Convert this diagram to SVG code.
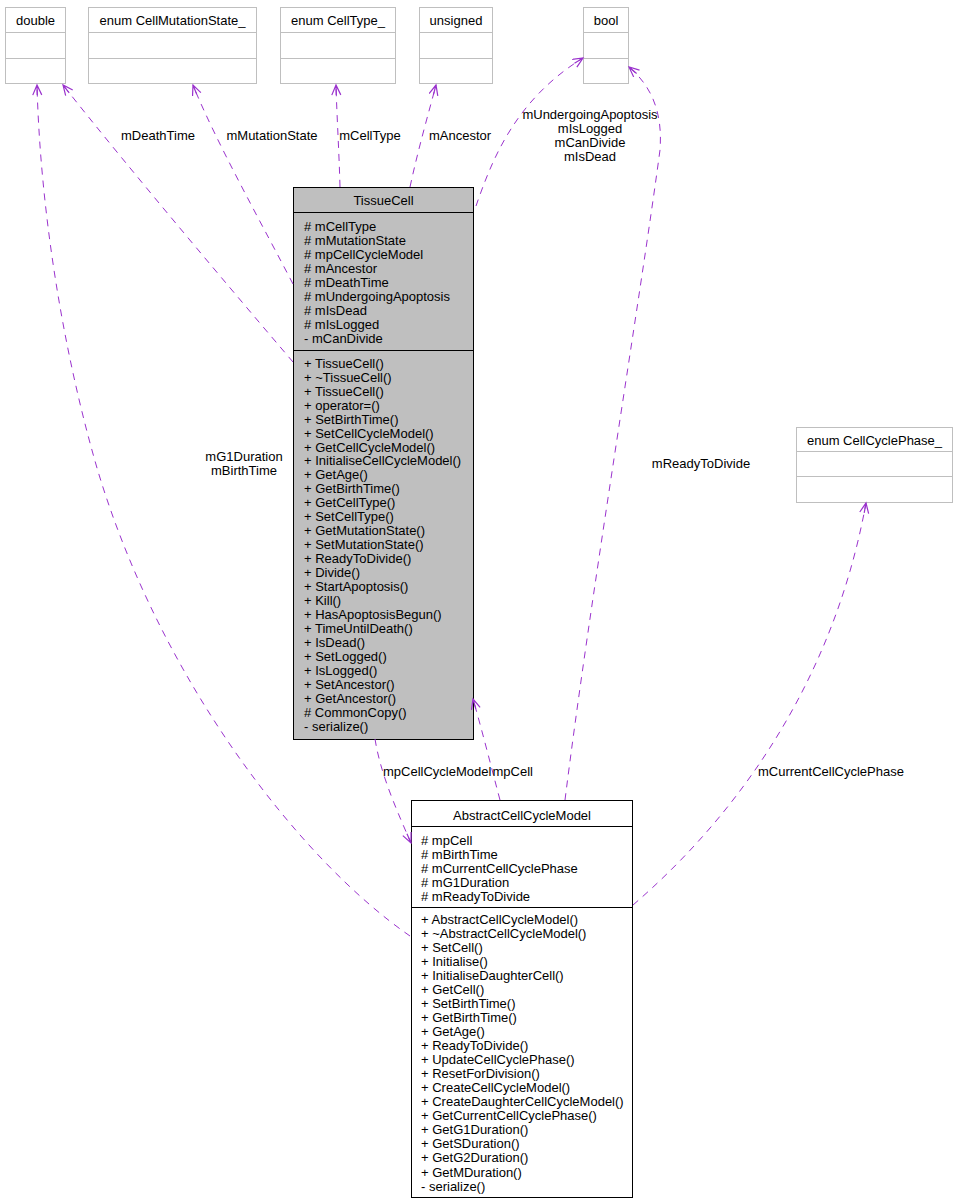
<svg xmlns="http://www.w3.org/2000/svg" width="956" height="1203" viewBox="0 0 956 1203">
<style>
text{font-family:"Liberation Sans",Arial,Helvetica,sans-serif;font-size:13px;fill:#000}
.c{text-anchor:middle}
.ext rect{fill:#fff;stroke:#bfbfbf;stroke-width:1}
.ext line{stroke:#bfbfbf;stroke-width:1}
.main rect{fill:#bfbfbf;stroke:#000;stroke-width:1}
.main line,.cls line{stroke:#000;stroke-width:1}
.cls rect{fill:#fff;stroke:#000;stroke-width:1}
.e{fill:none;stroke:#9a32cd;stroke-width:1;stroke-dasharray:7,6;marker-end:url(#ah)}
</style>
<defs>
<marker id="ah" markerUnits="userSpaceOnUse" markerWidth="14" markerHeight="12" refX="11" refY="5" orient="auto">
<path d="M1,0.5 L11,5 L1,9.5 M1,5 L11,5" fill="none" stroke="#9a32cd" stroke-width="1.2"/>
</marker>
</defs>
<rect width="956" height="1203" fill="#fff"/>

<g id="double" class="ext">
<rect x="5.5" y="7.5" width="60" height="76"/>
<line x1="5.5" y1="32.5" x2="65.5" y2="32.5"/>
<line x1="5.5" y1="58.5" x2="65.5" y2="58.5"/>
<text class="c" x="35.5" y="25">double</text>
</g>
<g id="CellMutationState" class="ext">
<rect x="88.5" y="7.5" width="168" height="76"/>
<line x1="88.5" y1="32.5" x2="256.5" y2="32.5"/>
<line x1="88.5" y1="58.5" x2="256.5" y2="58.5"/>
<text class="c" x="172.5" y="25">enum CellMutationState_</text>
</g>
<g id="CellType" class="ext">
<rect x="280.5" y="7.5" width="115" height="76"/>
<line x1="280.5" y1="32.5" x2="395.5" y2="32.5"/>
<line x1="280.5" y1="58.5" x2="395.5" y2="58.5"/>
<text class="c" x="338" y="25">enum CellType_</text>
</g>
<g id="unsigned" class="ext">
<rect x="419.5" y="7.5" width="73" height="76"/>
<line x1="419.5" y1="32.5" x2="492.5" y2="32.5"/>
<line x1="419.5" y1="58.5" x2="492.5" y2="58.5"/>
<text class="c" x="456" y="25">unsigned</text>
</g>
<g id="bool" class="ext">
<rect x="583.5" y="7.5" width="45" height="76"/>
<line x1="583.5" y1="32.5" x2="628.5" y2="32.5"/>
<line x1="583.5" y1="58.5" x2="628.5" y2="58.5"/>
<text class="c" x="606" y="25">bool</text>
</g>
<g id="CellCyclePhase" class="ext">
<rect x="796.5" y="427.5" width="156" height="75"/>
<line x1="796.5" y1="451.5" x2="952.5" y2="451.5"/>
<line x1="796.5" y1="476.5" x2="952.5" y2="476.5"/>
<text class="c" x="874.5" y="445">enum CellCyclePhase_</text>
</g>

<g id="TissueCell" class="main">
<rect x="293.5" y="187.5" width="180" height="552"/>
<line x1="293.5" y1="212.5" x2="473.5" y2="212.5"/>
<line x1="293.5" y1="350.5" x2="473.5" y2="350.5"/>
<text class="c" x="383.5" y="205">TissueCell</text>
<text x="304" y="231">
<tspan x="304" dy="0"># mCellType</tspan>
<tspan x="304" dy="13.95"># mMutationState</tspan>
<tspan x="304" dy="13.95"># mpCellCycleModel</tspan>
<tspan x="304" dy="13.95"># mAncestor</tspan>
<tspan x="304" dy="13.95"># mDeathTime</tspan>
<tspan x="304" dy="13.95"># mUndergoingApoptosis</tspan>
<tspan x="304" dy="13.95"># mIsDead</tspan>
<tspan x="304" dy="13.95"># mIsLogged</tspan>
<tspan x="304" dy="13.95">- mCanDivide</tspan>
</text>
<text x="304" y="367.8">
<tspan x="304" dy="0">+ TissueCell()</tspan>
<tspan x="304" dy="13.95">+ ~TissueCell()</tspan>
<tspan x="304" dy="13.95">+ TissueCell()</tspan>
<tspan x="304" dy="13.95">+ operator=()</tspan>
<tspan x="304" dy="13.95">+ SetBirthTime()</tspan>
<tspan x="304" dy="13.95">+ SetCellCycleModel()</tspan>
<tspan x="304" dy="13.95">+ GetCellCycleModel()</tspan>
<tspan x="304" dy="13.95">+ InitialiseCellCycleModel()</tspan>
<tspan x="304" dy="13.95">+ GetAge()</tspan>
<tspan x="304" dy="13.95">+ GetBirthTime()</tspan>
<tspan x="304" dy="13.95">+ GetCellType()</tspan>
<tspan x="304" dy="13.95">+ SetCellType()</tspan>
<tspan x="304" dy="13.95">+ GetMutationState()</tspan>
<tspan x="304" dy="13.95">+ SetMutationState()</tspan>
<tspan x="304" dy="13.95">+ ReadyToDivide()</tspan>
<tspan x="304" dy="13.95">+ Divide()</tspan>
<tspan x="304" dy="13.95">+ StartApoptosis()</tspan>
<tspan x="304" dy="13.95">+ Kill()</tspan>
<tspan x="304" dy="13.95">+ HasApoptosisBegun()</tspan>
<tspan x="304" dy="13.95">+ TimeUntilDeath()</tspan>
<tspan x="304" dy="13.95">+ IsDead()</tspan>
<tspan x="304" dy="13.95">+ SetLogged()</tspan>
<tspan x="304" dy="13.95">+ IsLogged()</tspan>
<tspan x="304" dy="13.95">+ SetAncestor()</tspan>
<tspan x="304" dy="13.95">+ GetAncestor()</tspan>
<tspan x="304" dy="13.95"># CommonCopy()</tspan>
<tspan x="304" dy="13.95">- serialize()</tspan>
</text>
</g>

<g id="AbstractCellCycleModel" class="cls">
<rect x="411.5" y="800.5" width="221" height="397"/>
<line x1="411.5" y1="826.5" x2="632.5" y2="826.5"/>
<line x1="411.5" y1="907.5" x2="632.5" y2="907.5"/>
<text class="c" x="522" y="819.5">AbstractCellCycleModel</text>
<text x="421" y="844.5">
<tspan x="421" dy="0"># mpCell</tspan>
<tspan x="421" dy="14"># mBirthTime</tspan>
<tspan x="421" dy="14"># mCurrentCellCyclePhase</tspan>
<tspan x="421" dy="14"># mG1Duration</tspan>
<tspan x="421" dy="14"># mReadyToDivide</tspan>
</text>
<text x="421" y="923.8">
<tspan x="421" dy="0">+ AbstractCellCycleModel()</tspan>
<tspan x="421" dy="14.04">+ ~AbstractCellCycleModel()</tspan>
<tspan x="421" dy="14.04">+ SetCell()</tspan>
<tspan x="421" dy="14.04">+ Initialise()</tspan>
<tspan x="421" dy="14.04">+ InitialiseDaughterCell()</tspan>
<tspan x="421" dy="14.04">+ GetCell()</tspan>
<tspan x="421" dy="14.04">+ SetBirthTime()</tspan>
<tspan x="421" dy="14.04">+ GetBirthTime()</tspan>
<tspan x="421" dy="14.04">+ GetAge()</tspan>
<tspan x="421" dy="14.04">+ ReadyToDivide()</tspan>
<tspan x="421" dy="14.04">+ UpdateCellCyclePhase()</tspan>
<tspan x="421" dy="14.04">+ ResetForDivision()</tspan>
<tspan x="421" dy="14.04">+ CreateCellCycleModel()</tspan>
<tspan x="421" dy="14.04">+ CreateDaughterCellCycleModel()</tspan>
<tspan x="421" dy="14.04">+ GetCurrentCellCyclePhase()</tspan>
<tspan x="421" dy="14.04">+ GetG1Duration()</tspan>
<tspan x="421" dy="14.04">+ GetSDuration()</tspan>
<tspan x="421" dy="14.04">+ GetG2Duration()</tspan>
<tspan x="421" dy="14.04">+ GetMDuration()</tspan>
<tspan x="421" dy="14.04">- serialize()</tspan>
</text>
</g>

<g id="edges">
<path class="e" d="M293,362 C240,300 130,170 63,85"/>
<path class="e" d="M410,936 C300,860 160,680 97,468 C60,340 40,200 37,85"/>
<path class="e" d="M293,284 C265,230 215,140 193,85"/>
<path class="e" d="M340,187 C339,150 337,120 336,85"/>
<path class="e" d="M410,187 C418,150 428,115 436,85"/>
<path class="e" d="M476,206 C492,160 515,100 583,58"/>
<path class="e" d="M565,800 C590,600 640,300 660,150 C663,110 650,85 629,67"/>
<path class="e" d="M375,739 C380,770 392,800 411,843"/>
<path class="e" d="M500,800 C492,770 482,730 473,699"/>
<path class="e" d="M633,905 C720,830 830,700 866,503"/>
<text class="c" x="158" y="140">mDeathTime</text>
<text class="c" x="272" y="140">mMutationState</text>
<text class="c" x="370" y="140">mCellType</text>
<text class="c" x="460" y="140">mAncestor</text>
<text class="c" x="590" y="119">mUndergoingApoptosis</text>
<text class="c" x="590" y="133">mIsLogged</text>
<text class="c" x="590" y="147">mCanDivide</text>
<text class="c" x="590" y="161">mIsDead</text>
<text class="c" x="244" y="461">mG1Duration</text>
<text class="c" x="244" y="475">mBirthTime</text>
<text class="c" x="701" y="468">mReadyToDivide</text>
<text x="383" y="776">mpCellCycleModel</text>
<text x="533" y="776" text-anchor="end">mpCell</text>
<text x="758" y="776">mCurrentCellCyclePhase</text>
</g>
</svg>
